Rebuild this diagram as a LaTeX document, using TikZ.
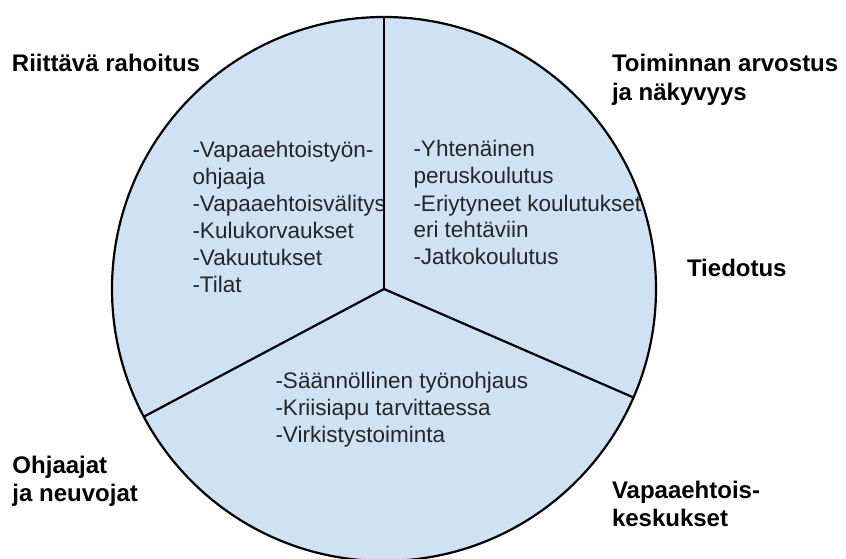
\documentclass[tikz,border=0pt]{standalone}
\usepackage{fontspec}
\setmainfont{Liberation Sans}
\definecolor{pie}{HTML}{CFE2F3}
\definecolor{ink}{HTML}{262626}
\newcommand\mylines[1]{\vtop{\lineskiplimit=-100pt\lineskip=0pt #1}}
\begin{document}
\begin{tikzpicture}[x=1pt,y=1pt,
  inner/.style={anchor=base west, inner sep=0pt, outer sep=0pt, text=ink, font=\fontsize{22.5}{27}\selectfont},
  lab/.style={anchor=base west, inner sep=0pt, outer sep=0pt, text=black, font=\fontsize{24}{28.5}\selectfont\bfseries},
  edge/.style={line width=2.2pt, draw=black, line join=round}]
\useasboundingbox (0,0) rectangle (846,558);
\def\R{272}
\coordinate (c) at (384,269);
\path (c) ++(90:\R) coordinate (ptop);
\path (c) ++(208:\R) coordinate (pleft);
\path (c) ++(-23.5:\R) coordinate (pright);
\fill[pie] (c) circle[radius=\R];
% left sector text
\begin{scope}
\clip (c) -- (ptop) arc[start angle=90,end angle=208,radius=\R] -- cycle;
\node[inner] (tleft) at (192.5,400) {\mylines{\hbox{-Vapaaehtoistyön-}\hbox{ohjaaja}\hbox{-Vapaaehtoisvälitys}\hbox{-Kulukorvaukset}\hbox{-Vakuutukset}\hbox{-Tilat}}};
\end{scope}
% right sector text
\begin{scope}
\clip (c) -- (ptop) arc[start angle=90,end angle=-23.5,radius=\R] -- cycle;
\node[inner] (tright) at (413.5,401) {\mylines{\hbox{-Yhtenäinen}\hbox{peruskoulutus}\hbox{-Eriytyneet koulutukset}\hbox{eri tehtäviin}\hbox{-Jatkokoulutus}}};
\end{scope}
% bottom sector text
\begin{scope}
\clip (c) -- (pleft) arc[start angle=208,end angle=336.5,radius=\R] -- cycle;
\node[inner] (tbottom) at (275.5,170) {\mylines{\hbox{-Säännöllinen työnohjaus}\hbox{-Kriisiapu tarvittaessa}\hbox{-Virkistystoiminta}}};
\end{scope}
\draw[edge] (c) circle[radius=\R];
\draw[edge] (c) -- (ptop);
\draw[edge] (c) -- (pleft);
\draw[edge] (c) -- (pright);
% outer labels
\node[lab] (l1) at (12,486.3) {Riittävä rahoitus};
\node[lab] (l2) at (612,486) {\mylines{\hbox{Toiminnan arvostus}\hbox{ja näkyvyys}}};
\node[lab] (l3) at (687,282) {Tiedotus};
\node[lab] (l4) at (12.5,85) {\mylines{\hbox{Ohjaajat}\hbox{ja neuvojat}}};
\node[lab] (l5) at (612,60) {\mylines{\hbox{Vapaaehtois-}\hbox{keskukset}}};
\end{tikzpicture}
\end{document}
